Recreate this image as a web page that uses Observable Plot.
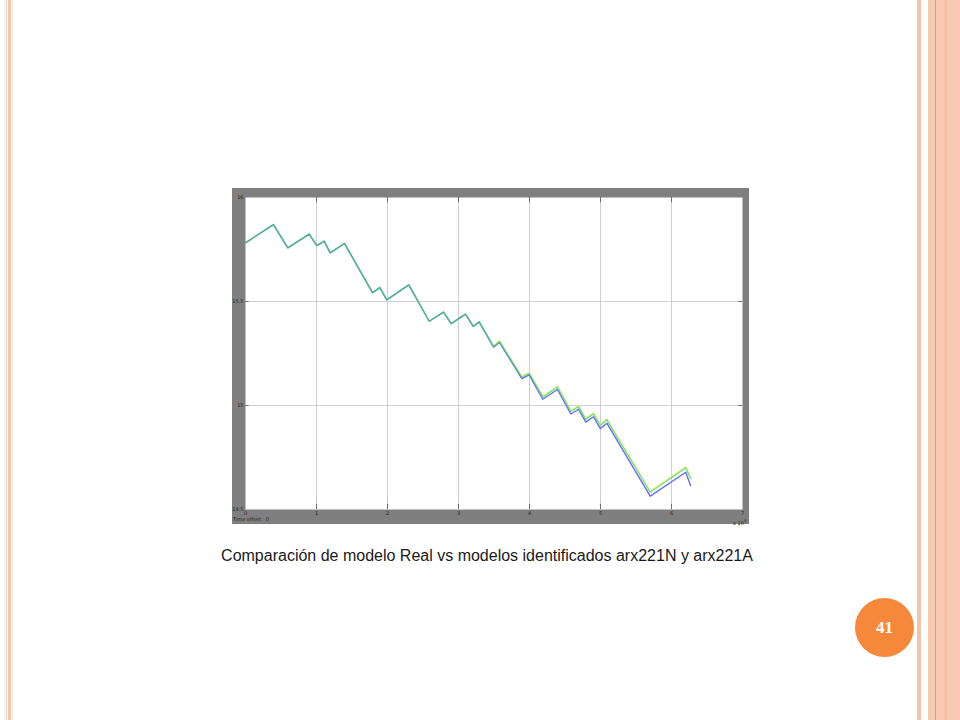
<!DOCTYPE html>
<html>
<head>
<meta charset="utf-8">
<script src="https://cdn.jsdelivr.net/npm/d3@7"></script>
<script src="https://cdn.jsdelivr.net/npm/@observablehq/plot@0.6"></script>
<style>
  html, body { margin: 0; padding: 0; background: #ffffff; width: 960px; height: 720px; overflow: hidden; position: relative; font-family: "Liberation Sans", Arial, sans-serif; }
  .deco { position: absolute; top: 0; height: 720px; }
  #chart { position: absolute; left: 232px; top: 188px; }
  .small { position: absolute; font-size: 5px; color: #222; white-space: nowrap; font-family: "DejaVu Sans", sans-serif; }
  #caption { position: absolute; left: 487px; top: 547px; transform: translateX(-50%); font-size: 16px; color: #1a1a1a; white-space: nowrap; }
  #page { position: absolute; left: 855px; top: 598px; width: 59px; height: 59px; border-radius: 50%; background: #f5883a; color: #fff; font-family: "Liberation Serif", "DejaVu Serif", serif; font-weight: bold; font-size: 17px; line-height: 59px; text-align: center; }
</style>
</head>
<body>
<div class="deco" style="left:4px;width:1px;background:#eef2ef"></div>
<div class="deco" style="left:6px;width:1px;background:#f4cfc4"></div>
<div class="deco" style="left:8px;width:3px;background:#f5c4af"></div>
<div class="deco" style="left:12px;width:1px;background:#f6e6de"></div>
<div class="deco" style="left:917px;width:4px;background:#f4c3ac"></div>
<div class="deco" style="left:928px;width:32px;background:#f8c9b3"></div>
<div class="deco" style="left:935px;width:1px;background:#e9996e"></div>
<div class="deco" style="left:944px;width:3px;background:#f5bea6"></div>

<div id="chart"></div>
<div class="small" style="left:233px;top:516px;">Time offset:&nbsp; 0</div>
<div class="small" style="left:733px;top:518px;">x 10<sup style="font-size:4px">4</sup></div>
<div id="caption">Comparación de modelo Real vs modelos identificados arx221N y arx221A</div>
<div id="page">41</div>

<script>
// time in units of 10^4 s
const time = [0, 0.394, 0.596, 0.897, 1.004, 1.108, 1.193, 1.394, 1.789, 1.892, 1.990, 2.300, 2.587, 2.789, 2.897, 3.099, 3.207, 3.292, 3.493, 3.577, 3.892, 3.996, 4.187, 4.394, 4.582, 4.690, 4.793, 4.901, 4.996, 5.089, 5.700, 6.201, 6.268];
const real = [15.782, 15.870, 15.758, 15.824, 15.769, 15.790, 15.734, 15.779, 15.543, 15.567, 15.508, 15.580, 15.405, 15.449, 15.394, 15.439, 15.380, 15.402, 15.287, 15.311, 15.140, 15.159, 15.044, 15.092, 14.975, 14.999, 14.937, 14.964, 14.908, 14.935, 14.588, 14.705, 14.655];
const arx221N = [15.782, 15.870, 15.758, 15.824, 15.769, 15.790, 15.734, 15.779, 15.543, 15.567, 15.508, 15.580, 15.405, 15.449, 15.394, 15.439, 15.380, 15.402, 15.284, 15.308, 15.136, 15.155, 15.040, 15.088, 14.971, 14.995, 14.933, 14.960, 14.904, 14.931, 14.583, 14.700, 14.649];
const arx221A = [15.782, 15.870, 15.758, 15.824, 15.769, 15.790, 15.734, 15.779, 15.543, 15.567, 15.508, 15.580, 15.405, 15.449, 15.394, 15.439, 15.380, 15.402, 15.280, 15.303, 15.129, 15.147, 15.030, 15.077, 14.959, 14.982, 14.920, 14.946, 14.889, 14.915, 14.564, 14.679, 14.615];
const xTicks = [0, 1, 2, 3, 4, 5, 6, 7];
const yTicks = [14.5, 15, 15.5, 16];
const xDomain = [0, 7];
const yDomain = [14.5, 16];

const mk = (vals) => time.map((t, i) => ({t, v: vals[i]}));
const tickLenX = 0.025, tickLenY = 0.05;

const chart = Plot.plot({
  width: 517, height: 336,
  marginLeft: 13, marginRight: 7, marginTop: 9, marginBottom: 15,
  style: { background: "#7f7f7f", fontFamily: "DejaVu Sans, sans-serif", overflow: "visible" },
  x: { domain: xDomain, ticks: xTicks, label: null },
  y: { domain: yDomain, ticks: yTicks, label: null },
  marks: [
    Plot.frame({ fill: "#ffffff", stroke: "none" }),
    Plot.gridX(xTicks.slice(1, -1), { stroke: "#cfcfcf", strokeOpacity: 1 }),
    Plot.gridY(yTicks.slice(1, -1), { stroke: "#cfcfcf", strokeOpacity: 1 }),
    Plot.ruleX(xTicks.slice(1, -1), { y1: yDomain[0], y2: yDomain[0] + tickLenX, stroke: "#555", strokeWidth: 0.8 }),
    Plot.ruleX(xTicks.slice(1, -1), { y1: yDomain[1], y2: yDomain[1] - tickLenX, stroke: "#555", strokeWidth: 0.8 }),
    Plot.ruleY(yTicks.slice(1, -1), { x1: xDomain[0], x2: xDomain[0] + tickLenY, stroke: "#555", strokeWidth: 0.8 }),
    Plot.ruleY(yTicks.slice(1, -1), { x1: xDomain[1], x2: xDomain[1] - tickLenY, stroke: "#555", strokeWidth: 0.8 }),
    Plot.axisX(xTicks, { anchor: "bottom", tickSize: 0, tickPadding: 2, fontSize: 5, fill: "#222", label: null, tickFormat: d => String(d) }),
    Plot.axisY(yTicks, { anchor: "left", tickSize: 0, tickPadding: 2, fontSize: 5, fill: "#222", label: null, tickFormat: d => String(d) }),
    Plot.line(mk(real), { x: "t", y: "v", stroke: "#f4f47a", strokeWidth: 1.5 }),
    Plot.line(mk(arx221A), { x: "t", y: "v", stroke: "#6a6aff", strokeWidth: 1.4 }),
    Plot.line(mk(arx221N), { x: "t", y: "v", stroke: "#3ad86e", strokeWidth: 1.4, strokeOpacity: 0.7 })
  ]
});
document.getElementById("chart").appendChild(chart);
</script>
</body>
</html>
